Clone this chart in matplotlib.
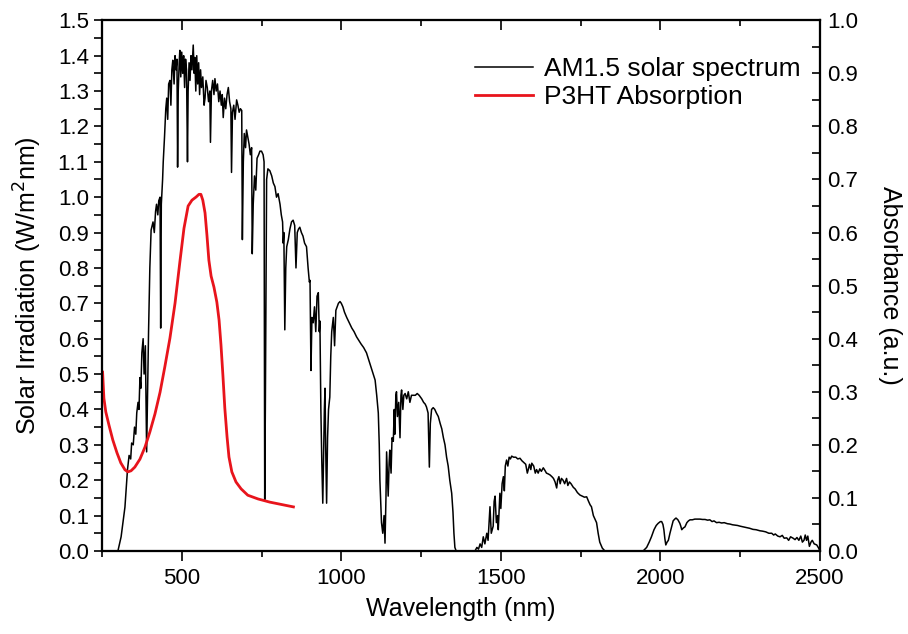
import numpy as np
import matplotlib
matplotlib.use("Agg")
from matplotlib import pyplot as plt
from matplotlib.ticker import MultipleLocator

# AM1.5 solar spectrum (nm, W/m2nm)
am_wl = [280, 300, 310, 322, 330, 335, 340, 343, 348, 352, 356, 359, 363, 366, 369, 372, 375, 379, 382, 386,
         390, 393, 396, 398, 400, 404, 410, 414, 418, 421, 425, 428, 432, 434, 436, 440, 442, 446, 450, 453,
         456, 459, 463, 466, 469, 472, 476, 479, 482, 485, 487, 489, 492, 494, 497, 500, 503, 506, 509, 512,
         515, 518, 520, 523, 526, 529, 532, 536, 539, 541, 544, 547, 550, 553, 556, 559, 562, 566, 570, 573,
         576, 580, 584, 588, 590, 593, 597, 601, 604, 608, 612, 616, 620, 624, 627, 630, 634, 638, 642, 646,
         650, 654, 656, 659, 663, 667, 672, 676, 680, 684, 688, 690, 693, 696, 700, 703, 707, 711, 715, 719,
         721, 724, 728, 732, 736, 741, 745, 750, 755, 758, 760, 762, 764, 766, 770, 776, 782, 787, 792, 797,
         802, 808, 812, 816, 818, 820, 823, 826, 829, 834, 839, 844, 849, 854, 858, 862, 866, 870, 875, 880,
         885, 891, 896, 900, 902, 905, 908, 912, 916, 920, 924, 928, 931, 933, 936, 939, 942, 945, 947, 949,
         951, 954, 957, 960, 964, 967, 970, 975, 979, 983, 987, 991, 996, 1000, 1005, 1010, 1017, 1025, 1033, 1040,
         1048, 1055, 1062, 1070, 1079, 1086, 1093, 1100, 1106, 1111, 1116, 1119, 1121, 1124, 1126, 1130, 1134, 1137, 1140, 1142,
         1145, 1147, 1150, 1152, 1156, 1159, 1163, 1166, 1168, 1171, 1173, 1176, 1180, 1184, 1187, 1189, 1193, 1196, 1200, 1205,
         1210, 1215, 1220, 1226, 1232, 1238, 1244, 1252, 1258, 1263, 1267, 1272, 1276, 1279, 1283, 1288, 1293, 1298, 1304, 1310,
         1315, 1320, 1325, 1330, 1335, 1340, 1346, 1350, 1353, 1356, 1360, 1419, 1425, 1430, 1435, 1440, 1445, 1450, 1456, 1460,
         1466, 1470, 1476, 1479, 1482, 1486, 1490, 1492, 1497, 1500, 1504, 1508, 1511, 1514, 1518, 1522, 1526, 1530, 1534, 1540,
         1547, 1553, 1560, 1566, 1572, 1578, 1583, 1586, 1590, 1594, 1597, 1603, 1608, 1612, 1617, 1622, 1627, 1633, 1638, 1643,
         1648, 1654, 1660, 1665, 1670, 1675, 1678, 1682, 1686, 1690, 1695, 1700, 1706, 1710, 1715, 1720, 1727, 1733, 1740, 1748,
         1755, 1762, 1769, 1775, 1780, 1784, 1790, 1795, 1800, 1805, 1810, 1818, 1826, 1946, 1957, 1965, 1972, 1980, 1987, 1993,
         2000, 2004, 2008, 2011, 2014, 2017, 2021, 2025, 2030, 2035, 2040, 2045, 2049, 2055, 2061, 2064, 2067, 2072, 2077, 2083,
         2088, 2093, 2100, 2108, 2116, 2124, 2132, 2140, 2148, 2155, 2162, 2168, 2176, 2184, 2192, 2200, 2210, 2218, 2226, 2234,
         2242, 2250, 2260, 2270, 2280, 2290, 2300, 2312, 2320, 2330, 2340, 2349, 2355, 2360, 2368, 2375, 2382, 2388, 2396, 2402,
         2408, 2416, 2422, 2428, 2434, 2440, 2445, 2450, 2454, 2458, 2462, 2467, 2472, 2476, 2482, 2490, 2496, 2500]
am_irr = [0, 0, 0.04, 0.124, 0.23, 0.27, 0.26, 0.305, 0.30, 0.35, 0.33, 0.39, 0.42, 0.40, 0.49, 0.46, 0.56, 0.60, 0.50, 0.58,
          0.28, 0.45, 0.62, 0.71, 0.80, 0.907, 0.93, 0.90, 0.96, 0.98, 0.95, 0.99, 1.00, 0.63, 0.98, 1.05, 1.10, 1.17, 1.25, 1.28,
          1.22, 1.32, 1.33, 1.26, 1.36, 1.387, 1.32, 1.40, 1.36, 1.39, 1.085, 1.30, 1.38, 1.415, 1.34, 1.41, 1.35, 1.40, 1.31, 1.39,
          1.36, 1.10, 1.30, 1.38, 1.33, 1.40, 1.36, 1.43, 1.35, 1.395, 1.30, 1.40, 1.32, 1.38, 1.29, 1.36, 1.31, 1.34, 1.26, 1.28,
          1.33, 1.31, 1.27, 1.30, 1.155, 1.30, 1.33, 1.29, 1.335, 1.30, 1.32, 1.27, 1.30, 1.26, 1.29, 1.225, 1.28, 1.25, 1.29, 1.31,
          1.27, 1.25, 1.07, 1.24, 1.26, 1.22, 1.275, 1.26, 1.24, 1.25, 1.245, 0.88, 1.10, 1.18, 1.14, 1.19, 1.17, 1.15, 1.12, 1.14,
          0.84, 0.98, 1.06, 1.02, 1.11, 1.12, 1.13, 1.13, 1.12, 1.10, 0.145, 0.40, 0.75, 1.05, 1.08, 1.075, 1.06, 1.04, 1.03, 1.00,
          1.01, 0.98, 0.95, 0.93, 0.87, 0.90, 0.625, 0.80, 0.86, 0.88, 0.91, 0.93, 0.935, 0.92, 0.80, 0.90, 0.91, 0.915, 0.90, 0.89,
          0.87, 0.86, 0.80, 0.76, 0.765, 0.51, 0.66, 0.645, 0.69, 0.62, 0.72, 0.73, 0.62, 0.65, 0.40, 0.25, 0.135, 0.30, 0.40, 0.46,
          0.30, 0.135, 0.32, 0.40, 0.435, 0.55, 0.62, 0.66, 0.58, 0.68, 0.69, 0.70, 0.705, 0.70, 0.69, 0.675, 0.66, 0.645, 0.63, 0.62,
          0.605, 0.595, 0.585, 0.575, 0.56, 0.54, 0.52, 0.50, 0.483, 0.44, 0.39, 0.30, 0.20, 0.13, 0.08, 0.05, 0.10, 0.022, 0.15, 0.28,
          0.20, 0.155, 0.25, 0.285, 0.22, 0.32, 0.31, 0.40, 0.33, 0.44, 0.45, 0.38, 0.42, 0.32, 0.44, 0.455, 0.40, 0.44, 0.445, 0.43,
          0.45, 0.42, 0.44, 0.44, 0.44, 0.445, 0.44, 0.43, 0.42, 0.415, 0.407, 0.39, 0.237, 0.36, 0.40, 0.405, 0.40, 0.39, 0.38, 0.36,
          0.345, 0.32, 0.30, 0.265, 0.24, 0.20, 0.163, 0.11, 0.05, 0.01, 0, 0, 0.01, 0.005, 0.02, 0.01, 0.04, 0.02, 0.05, 0.03,
          0.125, 0.05, 0.07, 0.14, 0.155, 0.08, 0.10, 0.06, 0.163, 0.12, 0.19, 0.21, 0.17, 0.24, 0.257, 0.24, 0.265, 0.26, 0.268, 0.265,
          0.265, 0.26, 0.262, 0.255, 0.25, 0.245, 0.22, 0.23, 0.245, 0.23, 0.248, 0.24, 0.22, 0.23, 0.22, 0.232, 0.225, 0.235, 0.228, 0.22,
          0.218, 0.215, 0.21, 0.205, 0.195, 0.178, 0.20, 0.21, 0.19, 0.205, 0.20, 0.19, 0.205, 0.185, 0.195, 0.19, 0.18, 0.175, 0.165, 0.158,
          0.155, 0.152, 0.153, 0.14, 0.13, 0.125, 0.10, 0.09, 0.08, 0.05, 0.025, 0.008, 0, 0, 0.01, 0.025, 0.04, 0.06, 0.072, 0.078,
          0.083, 0.083, 0.075, 0.06, 0.035, 0.017, 0.025, 0.03, 0.05, 0.068, 0.085, 0.09, 0.093, 0.088, 0.078, 0.07, 0.06, 0.065, 0.068, 0.08,
          0.085, 0.088, 0.088, 0.09, 0.09, 0.09, 0.089, 0.089, 0.087, 0.088, 0.083, 0.085, 0.08, 0.081, 0.079, 0.08, 0.077, 0.076, 0.074, 0.073,
          0.072, 0.07, 0.068, 0.066, 0.064, 0.061, 0.06, 0.057, 0.056, 0.054, 0.05, 0.05, 0.045, 0.048, 0.042, 0.04, 0.044, 0.036, 0.037, 0.03,
          0.04, 0.036, 0.032, 0.038, 0.03, 0.042, 0.025, 0.03, 0.045, 0.03, 0.042, 0.013, 0.025, 0.03, 0.02, 0.017, 0.008, 0]

# P3HT absorption (nm, a.u.)
p3ht_wl = [252, 256, 262, 272, 284, 297, 309, 322, 331, 341, 353, 369, 385, 400, 416, 432, 447, 463, 479, 494,
           507, 520, 532, 545, 554, 560, 566, 573, 579, 585, 592, 601, 610, 617, 623, 629, 635, 642, 648, 657,
           670, 686, 707, 739, 776, 817, 850]
p3ht_abs = [0.337, 0.288, 0.262, 0.237, 0.209, 0.185, 0.166, 0.153, 0.149, 0.151, 0.158, 0.173, 0.196, 0.224, 0.258,
            0.299, 0.347, 0.401, 0.467, 0.544, 0.608, 0.650, 0.661, 0.667, 0.672, 0.672, 0.661, 0.637, 0.595, 0.548,
            0.518, 0.497, 0.469, 0.435, 0.388, 0.331, 0.269, 0.215, 0.177, 0.149, 0.130, 0.117, 0.105, 0.098, 0.092,
            0.087, 0.083]

plt.rcParams['font.family'] = ['Liberation Sans', 'DejaVu Sans']
tick_font = ['Liberation Sans Narrow', 'Liberation Sans']

fig = plt.figure(figsize=(9.08, 6.34), dpi=100)
ax = fig.add_axes([0.1123, 0.131, 0.7907, 0.837])
ax2 = ax.twinx()
ax3 = ax.twiny()

l1, = ax.plot(am_wl, am_irr, color='black', lw=1.1, label='AM1.5 solar spectrum')
l2, = ax2.plot(p3ht_wl, p3ht_abs, color='#e8141c', lw=2.0, label='P3HT Absorption',
               solid_joinstyle='round')

ax.set_xlim(250, 2500)
ax3.set_xlim(250, 2500)
ax.set_ylim(0, 1.5)
ax2.set_ylim(0, 1.0)

for a in (ax, ax3):
    a.xaxis.set_major_locator(MultipleLocator(500))
    a.xaxis.set_minor_locator(MultipleLocator(250))
for a in (ax, ax2):
    a.yaxis.set_major_locator(MultipleLocator(0.1))
    a.yaxis.set_minor_locator(MultipleLocator(0.05))
    a.yaxis.set_major_formatter(plt.FormatStrFormatter('%.1f'))

ax.tick_params(axis='x', which='both', direction='out', top=False, labelsize=16, width=1.2, pad=5)
ax.tick_params(axis='x', which='major', length=7)
ax.tick_params(axis='x', which='minor', length=4)
ax3.tick_params(axis='x', which='both', direction='in', top=True, bottom=False,
                labeltop=False, labelbottom=False, width=1.2)
ax3.tick_params(axis='x', which='major', length=7)
ax3.tick_params(axis='x', which='minor', length=4)
ax.tick_params(axis='y', which='both', direction='out', labelsize=16, width=1.2, length=6)
ax2.tick_params(axis='y', which='both', direction='in', labelsize=16, width=1.2, length=6, pad=5)
for lab in ax.get_xticklabels() + ax.get_yticklabels() + ax2.get_yticklabels():
    lab.set_family(tick_font)

for a in (ax, ax2, ax3):
    for s in a.spines.values():
        s.set_linewidth(1.5)

ax.set_xlabel('Wavelength (nm)', fontsize=18, labelpad=6)
ax.set_ylabel('Solar Irradiation (W/m$^2$nm)', fontsize=18, labelpad=10)
ax2.set_ylabel('Absorbance (a.u.)', fontsize=18, rotation=270, labelpad=32)

ax3.legend([l1, l2], [l1.get_label(), l2.get_label()], loc='upper right', frameon=False,
           fontsize=19, handlelength=2.2, handletextpad=0.4, labelspacing=0.15,
           bbox_to_anchor=(1.006, 0.975))

fig.savefig('out.png', dpi=100)
